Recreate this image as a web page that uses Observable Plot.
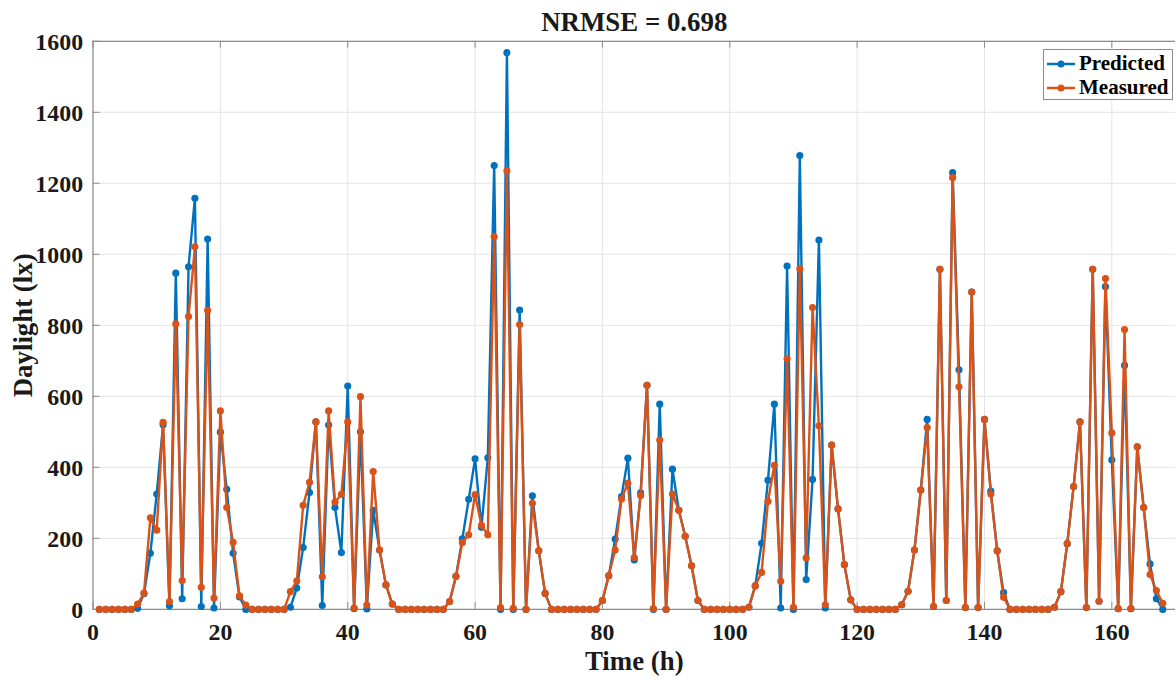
<!DOCTYPE html>
<html>
<head>
<meta charset="utf-8">
<script src="https://cdn.jsdelivr.net/npm/d3@7"></script>
<script src="https://cdn.jsdelivr.net/npm/@observablehq/plot@0.6"></script>
<style>
  html, body { margin: 0; padding: 0; background: #fff; overflow: hidden; }
  #wrap { position: relative; width: 1176px; height: 681px; overflow: hidden; }
  #legend {
    position: absolute; left: 1043px; top: 49px; width: 130px; height: 51px;
    border: 1px solid #8a8a8a; background: #fff; box-sizing: border-box;
    font-family: "Liberation Serif", "Times New Roman", serif; font-weight: bold; font-size: 21px;
  }
  .row { position: absolute; left: 2px; height: 25px; display: flex; align-items: center; }
  .row span { margin-left: 3px; }
</style>
</head>
<body>
<div id="wrap"><div id="chart"></div>
  <div id="legend">
    <div class="row" style="top:1px"><svg width="30" height="12"><line x1="1" y1="6" x2="29" y2="6" stroke="#0072BD" stroke-width="2.5"/><circle cx="15" cy="6" r="3.5" fill="#0072BD"/></svg><span>Predicted</span></div>
    <div class="row" style="top:25px"><svg width="30" height="12"><line x1="1" y1="6" x2="29" y2="6" stroke="#D95319" stroke-width="2.5"/><circle cx="15" cy="6" r="3.5" fill="#D95319"/></svg><span>Measured</span></div>
  </div>
</div>
<script>
// Time in hours, 1..168
const hours = [
  1,2,3,4,5,6,7,8,9,10,11,12,13,14,15,16,17,18,19,20,21,22,23,24,
  25,26,27,28,29,30,31,32,33,34,35,36,37,38,39,40,41,42,43,44,45,46,47,48,
  49,50,51,52,53,54,55,56,57,58,59,60,61,62,63,64,65,66,67,68,69,70,71,72,
  73,74,75,76,77,78,79,80,81,82,83,84,85,86,87,88,89,90,91,92,93,94,95,96,
  97,98,99,100,101,102,103,104,105,106,107,108,109,110,111,112,113,114,115,116,117,118,119,120,
  121,122,123,124,125,126,127,128,129,130,131,132,133,134,135,136,137,138,139,140,141,142,143,144,
  145,146,147,148,149,150,151,152,153,154,155,156,157,158,159,160,161,162,163,164,165,166,167,168
];

// Predicted daylight (lx)
const predicted = [
  0,0,0,0,0,0,3,44,158,325,520,10,947,30,965,1158,8,1043,4,499,338,158,35,0,
  0,0,0,0,0,0,6,60,174,329,528,11,519,287,160,629,2,500,1,279,167,69,15,0,
  0,0,0,0,0,0,0,22,93,199,310,424,231,427,1250,0,1568,0,843,0,320,165,45,0,
  0,0,0,0,0,0,0,25,95,198,318,426,139,328,631,0,578,0,395,279,206,123,25,0,
  0,0,0,0,0,0,6,66,186,364,578,4,967,0,1278,84,366,1040,4,463,283,126,27,0,
  0,0,0,0,0,0,13,51,167,336,535,8,958,25,1230,675,5,894,5,535,333,165,47,0,
  0,0,0,0,0,0,6,50,185,346,528,5,958,23,909,421,2,687,2,458,287,128,30,0
];

// Measured daylight (lx)
const measured = [
  0,0,0,0,0,0,15,46,258,223,527,22,804,81,825,1021,62,842,32,559,287,189,38,12,
  0,0,0,0,0,0,50,80,293,358,528,92,559,302,324,528,4,599,12,388,167,69,15,0,
  0,0,0,0,0,0,0,22,93,188,210,323,237,210,1050,5,1235,3,802,0,299,165,45,0,
  0,0,0,0,0,0,0,25,95,167,311,356,146,321,631,2,477,0,325,279,206,123,25,0,
  0,0,0,0,0,0,6,66,104,304,406,79,706,6,959,145,850,517,13,463,283,126,27,0,
  0,0,0,0,0,0,13,51,167,336,512,8,958,25,1216,627,5,894,5,535,325,165,34,0,
  0,0,0,0,0,0,6,50,185,346,528,5,958,23,932,497,2,788,2,458,287,98,53,17
];

const xTicks = [0, 20, 40, 60, 80, 100, 120, 140, 160];
const yTicks = [0, 200, 400, 600, 800, 1000, 1200, 1400, 1600];
const titleText = "NRMSE = 0.698";
const xLabel = "Time (h)";
const yLabel = "Daylight (lx)";

const predRows = hours.map((h, i) => ({h, v: predicted[i]}));
const measRows = hours.map((h, i) => ({h, v: measured[i]}));

const font = "Liberation Serif, Times New Roman, serif";
const blue = "#0072BD", orange = "#D95319";
const tickLen = 1600 * 7 / 571;   // inward tick length expressed in y units
const tickLenX = 170 * 7 / 1088;  // inward tick length in x units

const chart = Plot.plot({
  width: 1182,
  height: 681,
  marginLeft: 93,
  marginRight: 1,
  marginTop: 41,
  marginBottom: 69,
  x: {domain: [0, 170], axis: null},
  y: {domain: [0, 1600], axis: null},
  style: {fontFamily: font, background: "#fff", overflow: "visible"},
  marks: [
    Plot.gridX(xTicks, {stroke: "#e3e3e3", strokeOpacity: 1, strokeWidth: 1}),
    Plot.gridY(yTicks, {stroke: "#e3e3e3", strokeOpacity: 1, strokeWidth: 1}),
    // axis box lines
    Plot.ruleY([0, 1600], {stroke: "#8c8c8c", strokeWidth: 1.2}),
    Plot.ruleX([0], {stroke: "#8c8c8c", strokeWidth: 1.2}),
    // inward ticks
    Plot.ruleX(xTicks, {x: d => d, y1: 0, y2: tickLen, stroke: "#8c8c8c"}),
    Plot.ruleX(xTicks, {x: d => d, y1: 1600 - tickLen, y2: 1600, stroke: "#8c8c8c"}),
    Plot.ruleY(yTicks, {y: d => d, x1: 0, x2: tickLenX, stroke: "#8c8c8c"}),
    // data
    Plot.line(predRows, {x: "h", y: "v", stroke: blue, strokeWidth: 2.4}),
    Plot.dot(predRows, {x: "h", y: "v", fill: blue, r: 3.6}),
    Plot.line(measRows, {x: "h", y: "v", stroke: orange, strokeWidth: 2.4}),
    Plot.dot(measRows, {x: "h", y: "v", fill: orange, r: 3.6}),
    // tick labels
    Plot.text(xTicks, {x: d => d, frameAnchor: "bottom", lineAnchor: "middle", dy: 23, text: d => String(d),
      fontSize: 24, fontWeight: "bold", fill: "#1a1a1a", fontFamily: font}),
    Plot.text(yTicks, {y: d => d, frameAnchor: "left", lineAnchor: "middle", dx: -10, dy: 1, textAnchor: "end", text: d => String(d),
      fontSize: 24, fontWeight: "bold", fill: "#1a1a1a", fontFamily: font}),
    // axis titles
    Plot.text([xLabel], {frameAnchor: "bottom", lineAnchor: "middle", dy: 52, text: d => d,
      fontSize: 27, fontWeight: "bold", fill: "#1a1a1a", fontFamily: font}),
    Plot.text([yLabel], {frameAnchor: "left", lineAnchor: "middle", dx: -70, rotate: -90, textAnchor: "middle", text: d => d,
      fontSize: 27, fontWeight: "bold", fill: "#1a1a1a", fontFamily: font}),
    Plot.text([titleText], {frameAnchor: "top", lineAnchor: "middle", dy: -19, text: d => d,
      fontSize: 27, fontWeight: "bold", fill: "#1a1a1a", fontFamily: font})
  ]
});
document.getElementById("chart").appendChild(chart);
</script>
</body>
</html>
